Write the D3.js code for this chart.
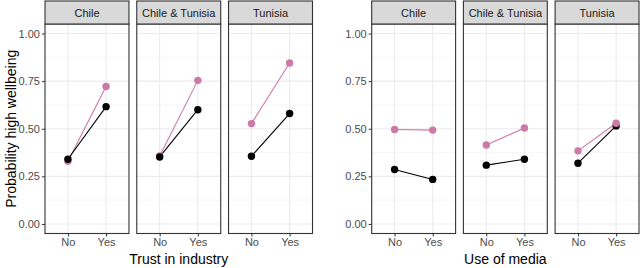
<!DOCTYPE html>
<html>
<head>
<meta charset="utf-8">
<script src="https://cdn.jsdelivr.net/npm/d3@7"></script>
<style>
  body { margin: 0; background: #fff; }
  svg { display: block; font-family: "Liberation Sans", Arial, sans-serif; }
</style>
</head>
<body>
<svg id="chart" width="640" height="268"></svg>
<script>
"use strict";

// facets and x levels
const facets = ["Chile", "Chile & Tunisia", "Tunisia"];
const levels = ["No", "Yes"];
const yTicks = [0, 0.25, 0.5, 0.75, 1];

// Trust in industry: [No, Yes] per facet
const trustBlack = [[0.340, 0.616], [0.352, 0.600], [0.356, 0.580]];
const trustPink  = [[0.330, 0.722], [0.357, 0.754], [0.527, 0.845]];

// Use of media: [No, Yes] per facet
const mediaBlack = [[0.286, 0.234], [0.309, 0.340], [0.319, 0.515]];
const mediaPink  = [[0.496, 0.493], [0.415, 0.504], [0.384, 0.529]];

(function () {
    const svg = d3.select("#chart");
    const pink = "#CC79A7";

    const y = d3.scaleLinear().domain([-0.05, 1.05]).range([233.5, 24]);

    // y axis title
    svg.append("text")
        .attr("transform", "translate(16," + ((24 + 233.5) / 2) + ") rotate(-90)")
        .attr("text-anchor", "middle")
        .style("font-size", "14px")
        .attr("fill", "#000")
        .text("Probability high wellbeing");

    drawChart({ x0: 45, x1: 312.5, title: "Trust in industry",
        series: [{ data: trustPink, color: pink }, { data: trustBlack, color: "#000" }] });
    drawChart({ x0: 371.7, x1: 639, title: "Use of media",
        series: [{ data: mediaBlack, color: "#000" }, { data: mediaPink, color: pink }] });

    function drawChart(opt) {
        const fx = d3.scaleBand().domain(facets).range([opt.x0, opt.x1])
            .paddingInner(0.085).paddingOuter(0);
        const w = fx.bandwidth();
        const x = d3.scalePoint().domain(levels).range([0, w]).padding(0.6);

        const g = svg.append("g");

        // y axis labels
        const yAxis = d3.axisLeft(y).tickValues(yTicks).tickFormat(d3.format(".2f")).tickSize(3).tickPadding(2);
        const ya = g.append("g").attr("transform", "translate(" + opt.x0 + ",0)").call(yAxis)
            .attr("font-family", null).attr("font-size", null);
        ya.select(".domain").remove();
        ya.selectAll("line").attr("stroke", "#333");
        ya.selectAll("text").attr("fill", "#4D4D4D").style("font-size", "11px");

        facets.forEach((f, i) => {
            const p = g.append("g").attr("transform", "translate(" + fx(f) + ",0)");

            // grid
            const minor = d3.range(0, 4).map(k => 0.125 + k * 0.25);
            p.selectAll(".minor").data(minor).enter().append("line")
                .attr("x1", 0).attr("x2", w)
                .attr("y1", d => y(d)).attr("y2", d => y(d))
                .attr("stroke", "#F2F2F2").attr("stroke-width", 0.6);
            p.selectAll(".major").data(yTicks).enter().append("line")
                .attr("x1", 0).attr("x2", w)
                .attr("y1", d => y(d)).attr("y2", d => y(d))
                .attr("stroke", "#EBEBEB").attr("stroke-width", 1.1);
            p.selectAll(".vmajor").data(levels).enter().append("line")
                .attr("x1", d => x(d)).attr("x2", d => x(d))
                .attr("y1", 24).attr("y2", 233.5)
                .attr("stroke", "#EBEBEB").attr("stroke-width", 1.1);

            // series
            opt.series.forEach(s => {
                const pts = levels.map((l, j) => ({ l: l, v: s.data[i][j] }));
                p.append("path")
                    .datum(pts)
                    .attr("d", d3.line().x(d => x(d.l)).y(d => y(d.v)))
                    .attr("fill", "none")
                    .attr("stroke", s.color)
                    .attr("stroke-width", 1.1);
            });
            opt.series.forEach(s => {
                const pts = levels.map((l, j) => ({ l: l, v: s.data[i][j] }));
                p.selectAll(null).data(pts).enter().append("circle")
                    .attr("cx", d => x(d.l))
                    .attr("cy", d => y(d.v))
                    .attr("r", 3.7)
                    .attr("fill", s.color);
            });

            // panel border
            p.append("rect")
                .attr("x", 0).attr("y", 24).attr("width", w).attr("height", 233.5 - 24)
                .attr("fill", "none").attr("stroke", "#333").attr("stroke-width", 1.1);

            // strip
            p.append("rect")
                .attr("x", 0).attr("y", 1).attr("width", w).attr("height", 23)
                .attr("fill", "#D9D9D9").attr("stroke", "#333").attr("stroke-width", 1.1);
            p.append("text")
                .attr("x", w / 2).attr("y", 16.5)
                .attr("text-anchor", "middle")
                .attr("fill", "#1A1A1A")
                .style("font-size", "11px")
                .text(f);

            // x axis
            const xa = p.append("g").attr("transform", "translate(0,233.5)")
                .call(d3.axisBottom(x).tickSize(3).tickPadding(2))
                .attr("font-family", null).attr("font-size", null);
            xa.select(".domain").remove();
            xa.selectAll("line").attr("stroke", "#333");
            xa.selectAll("text").attr("fill", "#4D4D4D").style("font-size", "11px");
        });

        g.append("text")
            .attr("x", (opt.x0 + opt.x1) / 2).attr("y", 263.5)
            .attr("text-anchor", "middle")
            .style("font-size", "14px")
            .attr("fill", "#000")
            .text(opt.title);
    }
})();
</script>
</body>
</html>
